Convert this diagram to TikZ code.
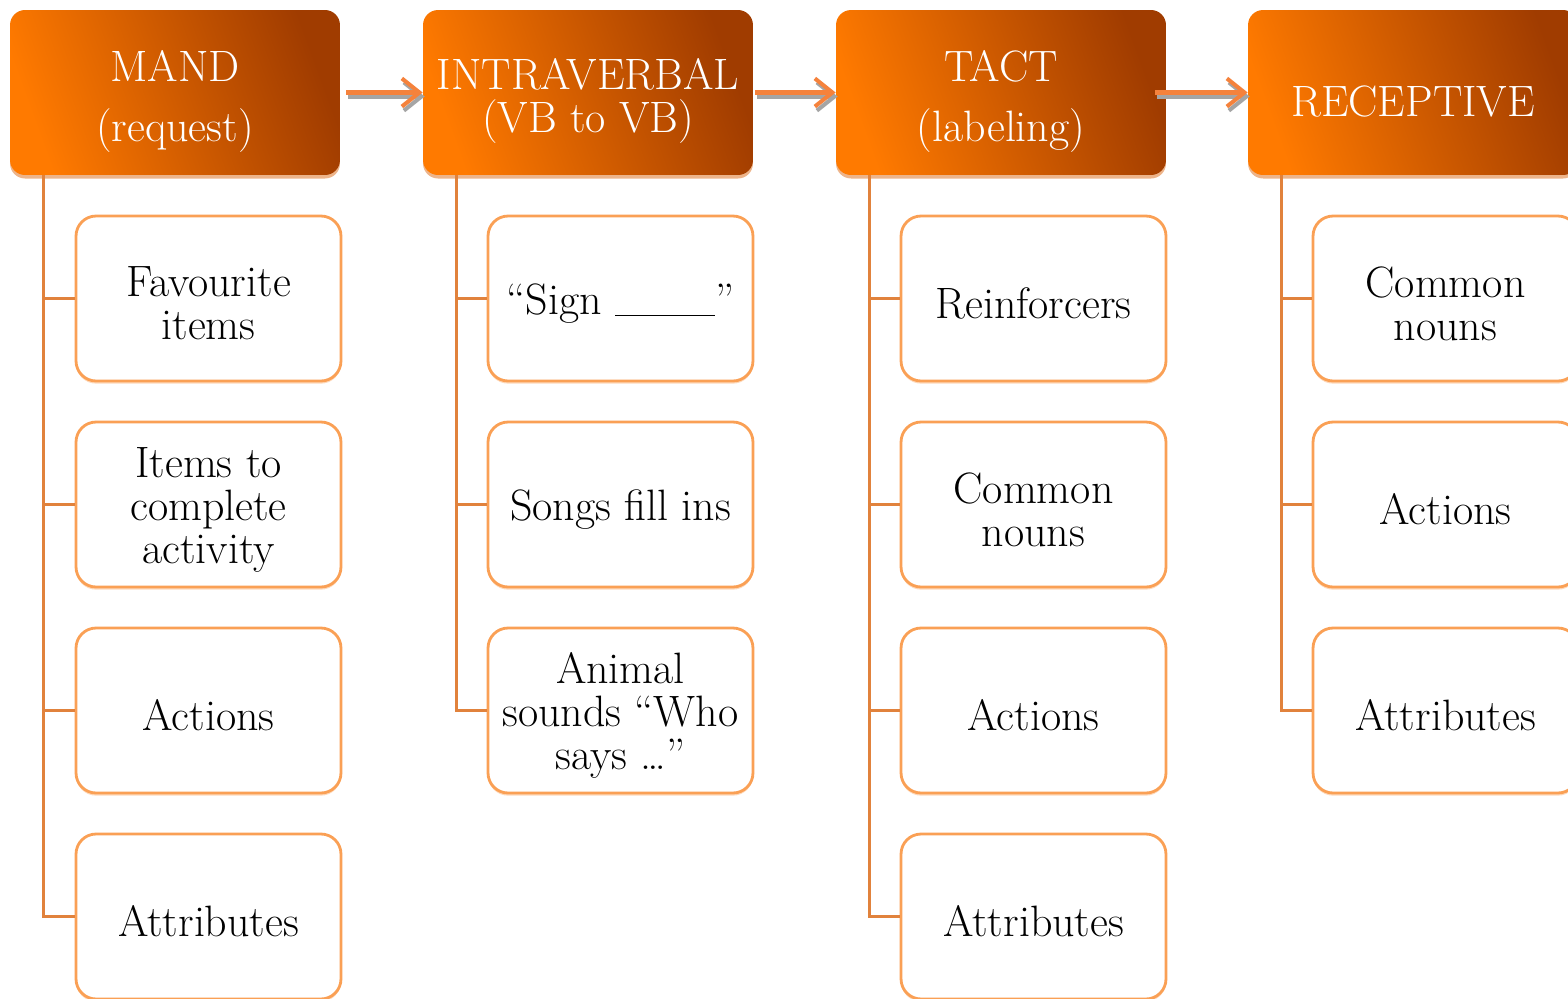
\documentclass[tikz,border=0pt]{standalone}
\usetikzlibrary{arrows.meta,positioning,calc,shadows}
\definecolor{HeadLight}{RGB}{255,122,0}
\definecolor{HeadDark}{RGB}{160,60,0}
\definecolor{BoxLine}{RGB}{250,160,85}
\definecolor{Link}{RGB}{225,130,60}
\definecolor{Flow}{RGB}{245,130,60}
\definecolor{FlowShade}{RGB}{165,165,165}
\newcommand\headtextfont{\fontsize{25}{24.5}\selectfont}
\newcommand\boxtextfont{\fontsize{25}{24.5}\selectfont}

\begin{document}
\begin{tikzpicture}[x=0.02cm,y=-0.02cm,
    headtext/.style={text=white, align=center, inner sep=0pt, font=\headtextfont, yshift=-0.17cm},
    headbox/.style={rounded corners=0.3cm, minimum width=6.6cm, minimum height=3.3cm,
      left color=HeadLight, right color=HeadDark, shading angle=110,
      drop shadow={shadow xshift=0pt,shadow yshift=-2pt,fill=Link,opacity=0.6},
      label={[headtext]center:#1}},
    itemtext/.style={align=center, inner sep=0pt, font=\boxtextfont, yshift=-0.1cm},
    itembox/.style={draw=BoxLine, line width=1.6pt, fill=white, rounded corners=0.4cm,
      minimum width=5.3cm, minimum height=3.3cm,
      drop shadow={shadow xshift=0pt,shadow yshift=-1.5pt,fill=BoxLine,opacity=0.4},
      label={[itemtext]center:#1}},
    link/.style={draw=Link, line width=1.8pt},
    flow/.style={draw=Flow, line width=2.3pt, -{Straight Barb[length=10pt,width=16pt]}},
    flowshade/.style={flow, draw=FlowShade}]
  \useasboundingbox (0,0) rectangle (1568,998);
  \clip (0,0) rectangle (1568,998);

  % operant headers
  \node[headbox={MAND\\[0.34cm](request)}] (mand) at (175,92.5) {};
  \node[headbox={INTRAVERBAL\\(VB to VB)}] (intra) at (588,92.5) {};
  \node[headbox={TACT\\[0.34cm](labeling)}] (tact) at (1001,92.5) {};
  \node[headbox={RECEPTIVE}] (rec) at (1413,92.5) {};

  % arrows between headers
  \foreach \a/\b/\gap in {mand/intra/0.12, intra/tact/0.04, tact/rec/-0.22} {
    \draw[flowshade] ([xshift=\gap cm+0.04cm,yshift=-0.08cm]\a.east) -- ([xshift=0.04cm,yshift=-0.08cm]\b.west);
    \draw[flow] ([xshift=\gap cm]\a.east) -- (\b.west);
  }

  % targets
  \foreach \txt [count=\i] in {{Favourite\\items},{Items to\\complete\\activity},Actions,Attributes}
    \node[itembox=\txt] (mand-\i) at (208.5,92.5+206*\i) {};
  \foreach \txt [count=\i] in {{“Sign \rule[-1pt]{2cm}{0.9pt}”},{Songs fill ins},{Animal\\sounds “Who\\says \ldots”}}
    \node[itembox=\txt] (intra-\i) at (620.5,92.5+206*\i) {};
  \foreach \txt [count=\i] in {Reinforcers,{Common\\nouns},Actions,Attributes}
    \node[itembox=\txt] (tact-\i) at (1033.5,92.5+206*\i) {};
  \foreach \txt [count=\i] in {{Common\\nouns},Actions,Attributes}
    \node[itembox=\txt] (rec-\i) at (1445.5,92.5+206*\i) {};

  % tree lines
  \foreach \col/\n in {mand/4, intra/3, tact/4, rec/3} {
    \draw[link] ([xshift=0.68cm]\col.south west) coordinate (\col-t) |- (\col-\n.west);
    \foreach \i in {1,...,\n}
      \draw[link] (\col-t |- \col-\i.west) -- (\col-\i.west);
  }
\end{tikzpicture}
\end{document}
